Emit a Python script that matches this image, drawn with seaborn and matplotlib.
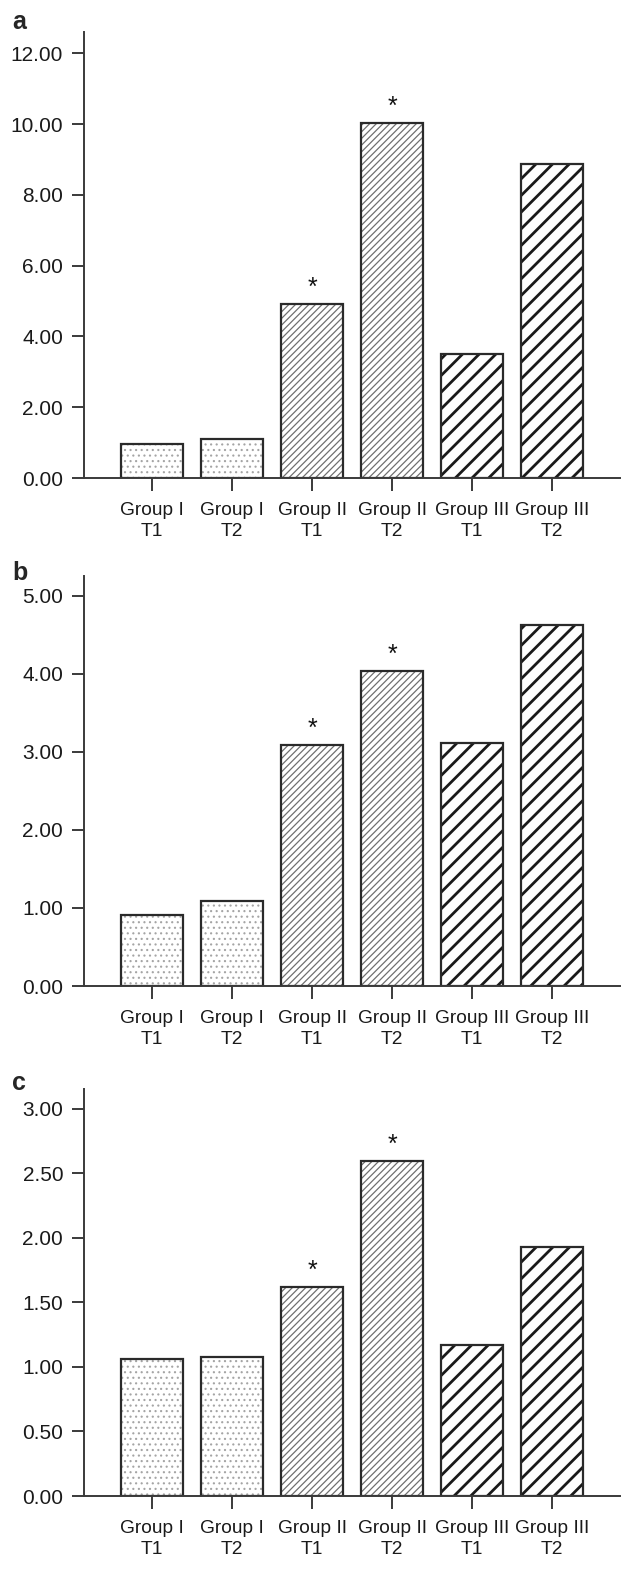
import matplotlib
matplotlib.use("Agg")
import matplotlib.pyplot as plt
import seaborn as sns
import pandas as pd
from matplotlib.patches import Rectangle
from matplotlib.ticker import FormatStrFormatter, MultipleLocator

# ---------------- data ----------------
categories = ["Group I\nT1", "Group I\nT2", "Group II\nT1", "Group II\nT2",
              "Group III\nT1", "Group III\nT2"]
groups = ["I", "I", "II", "II", "III", "III"]
values_a = [0.96, 1.09, 4.91, 10.03, 3.50, 8.86]
values_b = [0.91, 1.09, 3.08, 4.03, 3.11, 4.62]
values_c = [1.06, 1.08, 1.62, 2.60, 1.17, 1.93]
significant = [False, False, True, True, False, False]
panel_letters = ["a", "b", "c"]

# ---------------- style ----------------
sns.set_style("ticks")
plt.rcParams["font.family"] = ["Liberation Sans", "DejaVu Sans"]

W, H = 636, 1569
fig = plt.figure(figsize=(W / 100, H / 100), dpi=100)

hatch_styles = {
    "I": dict(hatch="...", hc="#a5a5a5", hlw=0.8),
    "II": dict(hatch="/////", hc="#707070", hlw=0.9),
    "III": dict(hatch="//", hc="#1a1a1a", hlw=2.0),
}
axis_col = "#3a3a3a"

panels = [
    dict(vals=values_a, top=32, bottom=478, ymax=12.6, step=2.0, letter_y=29),
    dict(vals=values_b, top=576, bottom=986, ymax=5.25, step=1.0, letter_y=580),
    dict(vals=values_c, top=1089, bottom=1496, ymax=3.155, step=0.5, letter_y=1090),
]
left_px, right_px = 84, 620

for letter, pdef in zip(panel_letters, panels):
    ax = fig.add_axes([left_px / W, 1 - pdef["bottom"] / H,
                       (right_px - left_px) / W,
                       (pdef["bottom"] - pdef["top"]) / H])
    df = pd.DataFrame({"cat": categories, "val": pdef["vals"]})
    sns.barplot(data=df, x="cat", y="val", color="white", saturation=1,
                width=0.78, linewidth=0, ax=ax, errorbar=None)
    for p, g in zip(ax.patches, groups):
        st = hatch_styles[g]
        p.set_facecolor("white")
        p.set_hatch(st["hatch"])
        p.set_edgecolor(st["hc"])
        p.set_linewidth(0)
        if hasattr(p, "set_hatch_linewidth"):
            p.set_hatch_linewidth(st["hlw"])
        else:
            p._hatch_linewidth = st["hlw"]
        ax.add_patch(Rectangle((p.get_x(), p.get_y()), p.get_width(), p.get_height(),
                               fill=False, edgecolor="#2a2a2a", linewidth=1.6,
                               zorder=p.get_zorder() + 0.1))
    for i, (v, s) in enumerate(zip(pdef["vals"], significant)):
        if s:
            ax.annotate("*", xy=(i, v), xytext=(0, 3), textcoords="offset points",
                        ha="center", va="bottom", fontsize=18, color="#111111")

    ax.set_xlim(-0.85, 5.85)
    ax.set_ylim(0, pdef["ymax"])
    ax.yaxis.set_major_locator(MultipleLocator(pdef["step"]))
    ax.yaxis.set_major_formatter(FormatStrFormatter("%.2f"))
    ax.set_xlabel("")
    ax.set_ylabel("")
    sns.despine(ax=ax)
    for sp in ["left", "bottom"]:
        ax.spines[sp].set_color(axis_col)
        ax.spines[sp].set_linewidth(1.4)
    ax.tick_params(axis="both", length=9, width=1.4, color=axis_col,
                   labelcolor="#1a1a1a")
    ax.tick_params(axis="y", labelsize=15, pad=6)
    ax.tick_params(axis="x", labelsize=13.8, pad=8)
    for t in ax.get_xticklabels():
        t.set_linespacing(1.3)
    fig.text(12 / W, 1 - pdef["letter_y"] / H, letter, fontsize=18,
             fontweight="bold", va="baseline", ha="left")

fig.savefig("out.png", dpi=100)
